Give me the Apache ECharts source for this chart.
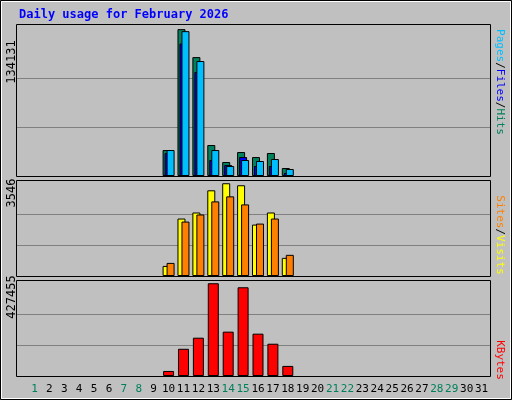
<!DOCTYPE html>
<html><head><meta charset="utf-8">
<script src="https://cdn.jsdelivr.net/npm/echarts@6/dist/echarts.min.js"></script>
<style>body{margin:0}#c{width:512px;height:400px}</style></head>
<body><div id="c"></div>
<script>
const days = Array.from({length:31},(_,i)=>String(i+1));
const weekend = ['1','7','8','14','15','21','22','28','29'];
const hits  = [0,0,0,0,0,0,0,0,0,23700,134131,108600,28300,12800,21900,17300,21000,7300,0,0,0,0,0,0,0,0,0,0,0,0,0];
const files = [0,0,0,0,0,0,0,0,0,23700,132300,105000,23700,9100,14600,13700,15500,6400,0,0,0,0,0,0,0,0,0,0,0,0,0];
const pages = [0,0,0,0,0,0,0,0,0,21000,121000,95000,14600,10000,17300,9100,9100,2700,0,0,0,0,0,0,0,0,0,0,0,0,0];
const visits= [0,0,0,0,0,0,0,0,0,385,2197,2428,3276,3546,3469,1966,2428,694,0,0,0,0,0,0,0,0,0,0,0,0,0];
const sites = [0,0,0,0,0,0,0,0,0,500,2081,2351,2852,3045,2737,2004,2197,809,0,0,0,0,0,0,0,0,0,0,0,0,0];
const kbytes= [0,0,0,0,0,0,0,0,0,23200,125400,176500,427455,204400,408900,195100,148700,46500,0,0,0,0,0,0,0,0,0,0,0,0,0];
const maxHits=134131, maxVisits=3546, maxK=427455;
const nz = a => a.map(v => v===0 ? null : v);
const panels=[{top:24,height:152},{top:180,height:96},{top:280,height:96}];
const grids=panels.map(p=>({left:27,right:23,top:p.top,height:p.height}));
const xa = grids.map((g,i)=>({type:'category',gridIndex:i,data:days,boundaryGap:true,
  axisLine:{show:false},axisTick:{show:false},
  axisLabel:{show:i===2,fontFamily:'DejaVu Sans Mono',fontSize:11,margin:8,interval:0,
    color:(v)=>weekend.includes(v)?'#00805c':'#000'}}));
const mx=[maxHits,maxVisits,maxK];
const ya = grids.map((g,i)=>({type:'value',gridIndex:i,min:0,max:mx[i]*1.035,interval:mx[i]*1.035/3,
  axisLabel:{show:false},axisLine:{show:false},axisTick:{show:false},
  splitLine:{show:false}}));
const bs = {borderColor:'#000',borderWidth:1};
const panelG=[];
panels.forEach(p=>{
  panelG.push({type:'rect',z:-1,shape:{x:16.5,y:p.top+0.5,width:474,height:p.height},style:{fill:'#c0c0c0',stroke:'#000'}});
  for(let k=1;k<=2;k++){const y=Math.round(p.top+p.height-(p.height/1.035)*k/3)+0.5;
    panelG.push({type:'line',z:-1,shape:{x1:17,y1:y,x2:490,y2:y},style:{stroke:'#808080',lineWidth:1}});}
});
const chart=echarts.init(document.getElementById('c'));
chart.setOption({
  backgroundColor:'#c0c0c0', animation:false,
  grid:grids, xAxis:xa, yAxis:ya,
  series:[
    {type:'bar',xAxisIndex:0,yAxisIndex:0,data:nz(hits),barWidth:8,barGap:'-75%',itemStyle:Object.assign({color:'#00805c'},bs)},
    {type:'bar',xAxisIndex:0,yAxisIndex:0,data:nz(pages),barWidth:8,barGap:'-75%',itemStyle:Object.assign({color:'#0000ff'},bs)},
    {type:'bar',xAxisIndex:0,yAxisIndex:0,data:nz(files),barWidth:8,barGap:'-75%',itemStyle:Object.assign({color:'#00bfff'},bs)},
    {type:'bar',xAxisIndex:1,yAxisIndex:1,data:nz(visits),barWidth:8,barGap:'-50%',itemStyle:Object.assign({color:'#ffff00'},bs)},
    {type:'bar',xAxisIndex:1,yAxisIndex:1,data:nz(sites),barWidth:8,barGap:'-50%',itemStyle:Object.assign({color:'#ff8000'},bs)},
    {type:'bar',xAxisIndex:2,yAxisIndex:2,data:nz(kbytes),barWidth:11,itemStyle:Object.assign({color:'#ff0000'},bs)}
  ],
  graphic:panelG.concat([
    {type:'rect',shape:{x:0.5,y:0.5,width:511,height:399},style:{fill:'none',stroke:'#000'}},
    {type:'rect',shape:{x:1.5,y:1.5,width:509,height:397},style:{fill:'none',stroke:'#fff'}},
    {type:'text',left:19,top:9,style:{text:'Daily usage for February 2026',fill:'#0000ff',font:'bold 12px "DejaVu Sans Mono"'}},
    {type:'text',x:12,y:62,rotation:Math.PI/2,style:{text:String(maxHits),fill:'#000',font:'12px "DejaVu Sans Mono"',align:'center',verticalAlign:'middle'}},
    {type:'text',x:12,y:193,rotation:Math.PI/2,style:{text:String(maxVisits),fill:'#000',font:'12px "DejaVu Sans Mono"',align:'center',verticalAlign:'middle'}},
    {type:'text',x:12,y:297,rotation:Math.PI/2,style:{text:String(maxK),fill:'#000',font:'12px "DejaVu Sans Mono"',align:'center',verticalAlign:'middle'}},
    {type:'text',x:500,y:82,rotation:-Math.PI/2,style:{rich:{p:{fill:'#00bfff'},f:{fill:'#0000ff'},h:{fill:'#00805c'},s:{fill:'#000'}},text:'{p|Pages}{s|/}{f|Files}{s|/}{h|Hits}',font:'11px "DejaVu Sans Mono"',align:'center',verticalAlign:'middle'}},
    {type:'text',x:500,y:235,rotation:-Math.PI/2,style:{rich:{a:{fill:'#ff8000'},b:{fill:'#ffff00'},s:{fill:'#000'}},text:'{a|Sites}{s|/}{b|Visits}',font:'11px "DejaVu Sans Mono"',align:'center',verticalAlign:'middle'}},
    {type:'text',x:500,y:360,rotation:-Math.PI/2,style:{text:'KBytes',fill:'#ff0000',font:'11px "DejaVu Sans Mono"',align:'center',verticalAlign:'middle'}}
  ])
});
</script></body></html>
